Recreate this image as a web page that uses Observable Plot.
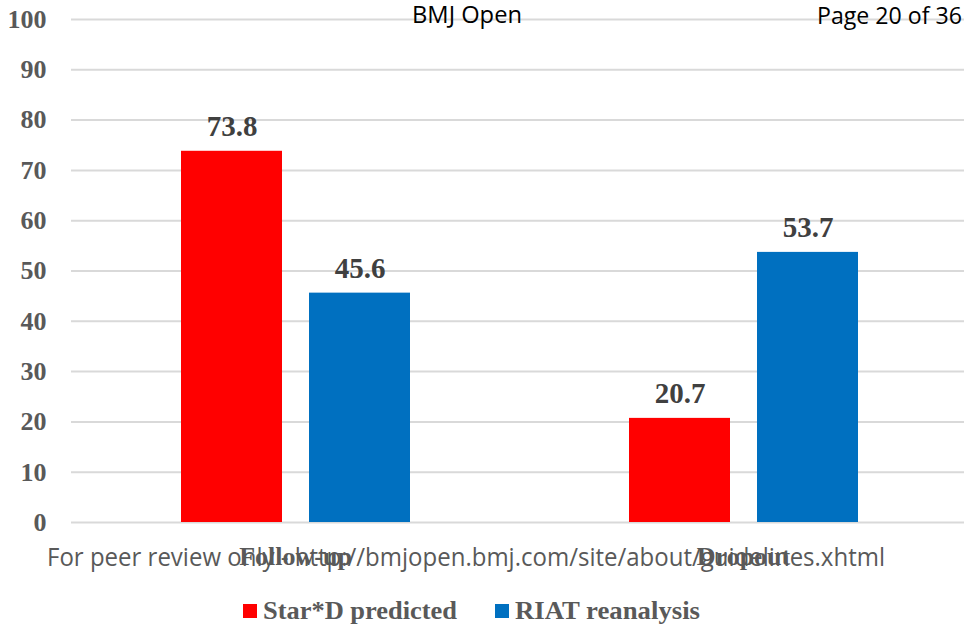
<!DOCTYPE html>
<html><head><meta charset="utf-8">
<script src="https://cdn.jsdelivr.net/npm/d3@7"></script>
<script src="https://cdn.jsdelivr.net/npm/@observablehq/plot@0.6"></script>
<style>
body{margin:0;background:#fff;}
#wrap{position:relative;width:964px;height:624px;overflow:hidden;background:#fff;}
#wrap svg{position:absolute;left:0;top:0;}
</style></head><body><div id="wrap"></div>
<script>
// ---- data ----
const categories = ["Follow-up", "Dropout"];
const seriesNames = ["Star*D predicted", "RIAT reanalysis"];
const starDPredicted = [73.8, 20.7];
const riatReanalysis = [45.6, 53.7];
const yTicks = [0, 10, 20, 30, 40, 50, 60, 70, 80, 90, 100];
const seriesColors = ["#FF0000", "#0070C0"];
const headerLeft = "BMJ Open";
const headerRight = "Page 20 of 36";
const footerText = "For peer review only - http://bmjopen.bmj.com/site/about/guidelines.xhtml";

const data = categories.flatMap((c, i) => [
  {category: c, series: seriesNames[0], value: starDPredicted[i]},
  {category: c, series: seriesNames[1], value: riatReanalysis[i]}
]);

const serif = "'Liberation Serif', 'Times New Roman', serif";
const sans = "'Open Sans', 'Noto Sans', sans-serif";

const chart = Plot.plot({
  width: 964,
  height: 624,
  marginTop: 19,
  marginBottom: 102,
  marginLeft: 71,
  marginRight: 0,
  style: {background: "transparent", fontFamily: serif, overflow: "visible"},
  fx: {domain: categories, paddingInner: 0, paddingOuter: 0, range: [71, 967], label: null},
  x: {domain: seriesNames, paddingInner: 0.211, paddingOuter: 0.85, axis: null},
  y: {domain: [0, 100], axis: null},
  color: {domain: seriesNames, range: seriesColors},
  marks: [
    Plot.gridY(yTicks, {stroke: "#d9d9d9", strokeOpacity: 1, strokeWidth: 2}),
    Plot.barY(data, {fx: "category", x: "series", y: "value", fill: "series"}),
    Plot.text(data, {
      fx: "category", x: "series", y: "value",
      text: d => d.value.toFixed(1),
      lineAnchor: "bottom", dy: -15,
      fontSize: 29, fontWeight: "bold", fontFamily: serif, fill: "#404040"
    }),
    Plot.axisY(yTicks, {tickSize: 0, tickPadding: 25, fontSize: 26, fontWeight: "bold", fontFamily: serif, color: "#595959", label: null}),
    Plot.axisFx({anchor: "bottom", tickSize: 0, tickPadding: 24, fontSize: 26, fontWeight: "bold", fontFamily: serif, color: "#595959", label: null})
  ]
});
document.getElementById("wrap").appendChild(chart);

// overlay: page header, footer and legend
const ov = d3.select("#wrap").append("svg")
  .attr("width", 964).attr("height", 624)
  .style("pointer-events", "none");

ov.append("text").attr("x", 412).attr("y", 23)
  .attr("font-family", sans).attr("font-size", 24).attr("fill", "#000")
  .attr("textLength", 110).attr("lengthAdjust", "spacingAndGlyphs")
  .text(headerLeft);
ov.append("text").attr("x", 817).attr("y", 24)
  .attr("font-family", sans).attr("font-size", 24).attr("fill", "#000")
  .attr("textLength", 145).attr("lengthAdjust", "spacingAndGlyphs")
  .text(headerRight);
ov.append("text").attr("x", 47).attr("y", 566)
  .attr("font-family", sans).attr("font-size", 25).attr("fill", "#595959")
  .attr("textLength", 838).attr("lengthAdjust", "spacingAndGlyphs")
  .text(footerText);

const legendItems = [
  {name: seriesNames[0], color: seriesColors[0], x: 243, w: 194},
  {name: seriesNames[1], color: seriesColors[1], x: 495, w: 185}
];
legendItems.forEach(it => {
  ov.append("rect").attr("x", it.x).attr("y", 604).attr("width", 14).attr("height", 14).attr("fill", it.color);
  ov.append("text").attr("x", it.x + 20).attr("y", 619)
    .attr("font-family", serif).attr("font-size", 26).attr("font-weight", "bold").attr("fill", "#595959")
    .attr("textLength", it.w).attr("lengthAdjust", "spacingAndGlyphs")
    .text(it.name);
});
</script></body></html>
